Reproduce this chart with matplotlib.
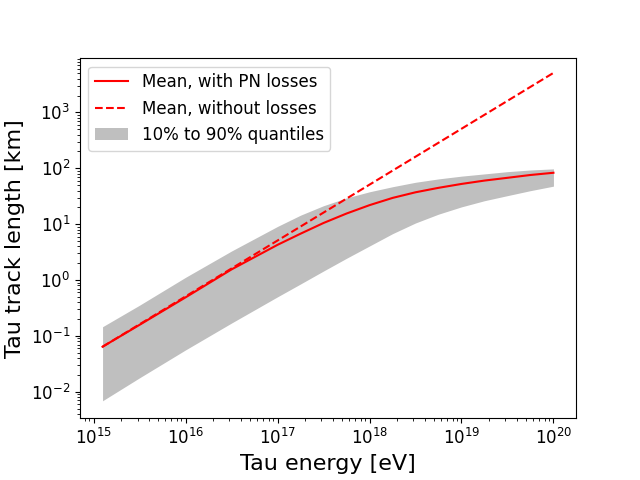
import matplotlib
matplotlib.use("Agg")
import matplotlib.pyplot as plt
import numpy as np

# tau energy [eV]
energy = [1.25e15, 3.16e15, 1e16, 3.16e16, 1e17, 1.78e17, 3.16e17, 5.62e17,
          1e18, 1.78e18, 3.16e18, 5.62e18, 1e19, 1.78e19, 3.16e19, 5.62e19, 1e20]

# track length [km]
mean_pn = [0.064, 0.158, 0.49, 1.55, 4.27, 6.76, 10.5, 15.5,
           21.9, 29.5, 37.2, 44.7, 52.5, 60.3, 67.6, 75.9, 83.2]
q90 = [0.146, 0.355, 1.12, 3.31, 9.12, 14.5, 21.4, 29.5,
       38.0, 46.8, 56.2, 64.6, 72.4, 79.4, 87.1, 93.3, 97.7]
q10 = [0.0069, 0.0178, 0.0562, 0.170, 0.501, 0.851, 1.45, 2.45,
       4.07, 6.76, 10.5, 15.1, 20.4, 26.3, 32.4, 39.8, 47.9]

energy_nl = [1.25e15, 1e16, 1e17, 1e18, 1e19, 1e20]
mean_nl = [0.064, 0.51, 5.1, 51, 510, 5100]

fig = plt.figure(figsize=(6.4, 4.8), dpi=100)
ax = fig.add_axes([0.125, 0.1285, 0.775, 0.75])

ax.plot(energy, mean_pn, color="red", label="Mean, with PN losses")
ax.plot(energy_nl, mean_nl, color="red", linestyle="--", label="Mean, without losses")
ax.fill_between(energy, q10, q90, color="gray", alpha=0.5, linewidth=0,
                label="10% to 90% quantiles")

ax.set_xscale("log")
ax.set_yscale("log")
ax.set_ylim(3.35e-3, 9.3e3)
ax.set_xlabel("Tau energy [eV]", fontsize=16)
ax.set_ylabel("Tau track length [km]", fontsize=16)
ax.tick_params(labelsize=12)
ax.legend(loc="upper left", fontsize=12)

fig.savefig("out.png", dpi=100)
